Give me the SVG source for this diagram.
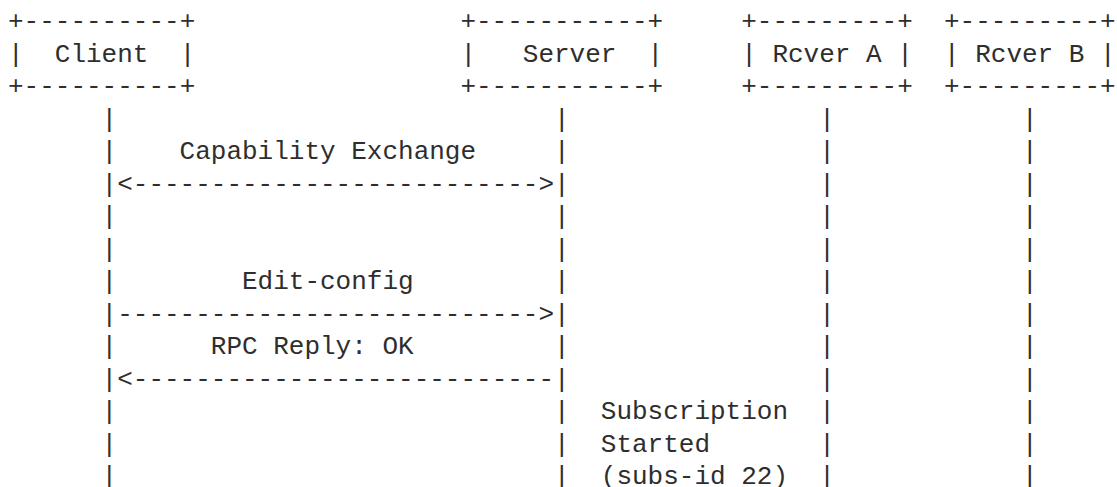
<svg xmlns="http://www.w3.org/2000/svg" width="1117" height="487" viewBox="0 0 1117 487">
<style>
text{font-family:"Liberation Mono","DejaVu Sans Mono",monospace;font-size:26px;fill:#2e2e2e;white-space:pre}
</style>
<rect width="1117" height="487" fill="#ffffff"/>
<g id="client" xml:space="preserve">
<text x="8" y="29.2">+----------+</text>
<text x="8" y="61.7">|  Client  |</text>
<text x="8" y="94.2">+----------+</text>
</g>
<g id="server" xml:space="preserve">
<text x="460.4" y="29.2">+-----------+</text>
<text x="460.4" y="61.7">|   Server  |</text>
<text x="460.4" y="94.2">+-----------+</text>
</g>
<g id="rcverA" xml:space="preserve">
<text x="741.2" y="29.2">+---------+</text>
<text x="741.2" y="61.7">| Rcver A |</text>
<text x="741.2" y="94.2">+---------+</text>
</g>
<g id="rcverB" xml:space="preserve">
<text x="944" y="29.2">+---------+</text>
<text x="944" y="61.7">| Rcver B |</text>
<text x="944" y="94.2">+---------+</text>
</g>
<g id="connectors" xml:space="preserve">
<text><tspan x="101.6" y="126.7">|</tspan><tspan x="101.6" y="159.2">|</tspan><tspan x="101.6" y="191.7">|</tspan><tspan x="101.6" y="224.2">|</tspan><tspan x="101.6" y="256.7">|</tspan><tspan x="101.6" y="289.2">|</tspan><tspan x="101.6" y="321.7">|</tspan><tspan x="101.6" y="354.2">|</tspan><tspan x="101.6" y="386.7">|</tspan><tspan x="101.6" y="419.2">|</tspan><tspan x="101.6" y="451.7">|</tspan><tspan x="101.6" y="484.2">|</tspan></text>
<text><tspan x="554" y="126.7">|</tspan><tspan x="554" y="159.2">|</tspan><tspan x="554" y="191.7">|</tspan><tspan x="554" y="224.2">|</tspan><tspan x="554" y="256.7">|</tspan><tspan x="554" y="289.2">|</tspan><tspan x="554" y="321.7">|</tspan><tspan x="554" y="354.2">|</tspan><tspan x="554" y="386.7">|</tspan><tspan x="554" y="419.2">|</tspan><tspan x="554" y="451.7">|</tspan><tspan x="554" y="484.2">|</tspan></text>
<text><tspan x="819.2" y="126.7">|</tspan><tspan x="819.2" y="159.2">|</tspan><tspan x="819.2" y="191.7">|</tspan><tspan x="819.2" y="224.2">|</tspan><tspan x="819.2" y="256.7">|</tspan><tspan x="819.2" y="289.2">|</tspan><tspan x="819.2" y="321.7">|</tspan><tspan x="819.2" y="354.2">|</tspan><tspan x="819.2" y="386.7">|</tspan><tspan x="819.2" y="419.2">|</tspan><tspan x="819.2" y="451.7">|</tspan><tspan x="819.2" y="484.2">|</tspan></text>
<text><tspan x="1022" y="126.7">|</tspan><tspan x="1022" y="159.2">|</tspan><tspan x="1022" y="191.7">|</tspan><tspan x="1022" y="224.2">|</tspan><tspan x="1022" y="256.7">|</tspan><tspan x="1022" y="289.2">|</tspan><tspan x="1022" y="321.7">|</tspan><tspan x="1022" y="354.2">|</tspan><tspan x="1022" y="386.7">|</tspan><tspan x="1022" y="419.2">|</tspan><tspan x="1022" y="451.7">|</tspan><tspan x="1022" y="484.2">|</tspan></text>
<text x="117.2" y="191.7">&lt;--------------------------&gt;</text>
<text x="117.2" y="321.7">---------------------------&gt;</text>
<text x="117.2" y="386.7">&lt;---------------------------</text>
</g>
<g id="labels" xml:space="preserve">
<text x="179.6" y="159.2">Capability Exchange</text>
<text x="242" y="289.2">Edit-config</text>
<text x="210.8" y="354.2">RPC Reply: OK</text>
<text x="600.8" y="419.2">Subscription</text>
<text x="600.8" y="451.7">Started</text>
<text x="600.8" y="484.2">(subs-id 22)</text>
</g>
</svg>
